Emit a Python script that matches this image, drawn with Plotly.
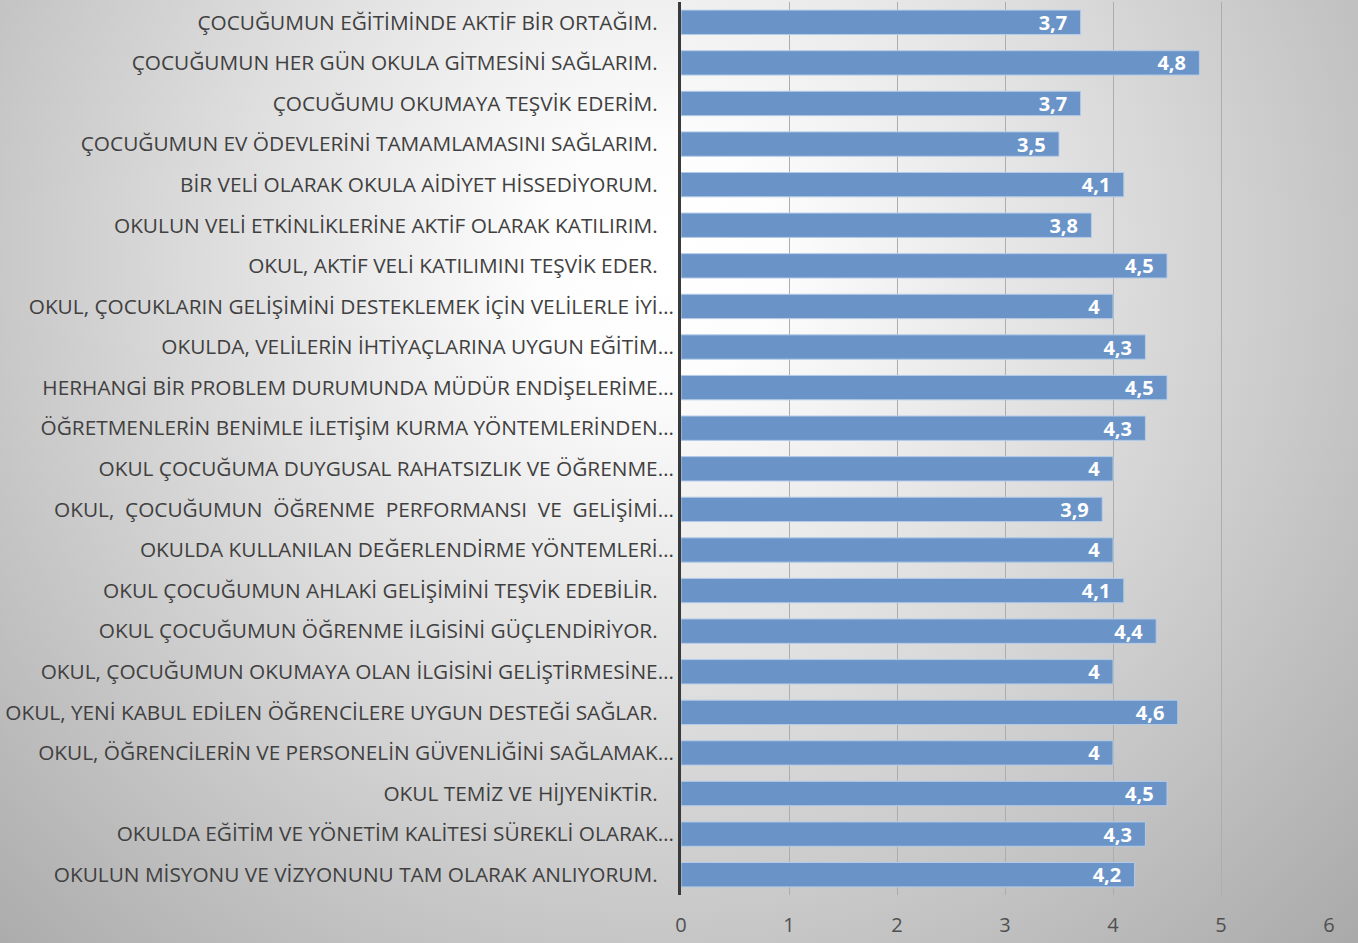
import base64

import plotly.graph_objects as go

NB = "\u00a0"

questions = [
    "ÇOCUĞUMUN EĞİTİMİNDE AKTİF BİR ORTAĞIM.",
    "ÇOCUĞUMUN HER GÜN OKULA GİTMESİNİ SAĞLARIM.",
    "ÇOCUĞUMU OKUMAYA TEŞVİK EDERİM.",
    "ÇOCUĞUMUN EV ÖDEVLERİNİ TAMAMLAMASINI SAĞLARIM.",
    "BİR VELİ OLARAK OKULA AİDİYET HİSSEDİYORUM.",
    "OKULUN VELİ ETKİNLİKLERİNE AKTİF OLARAK KATILIRIM.",
    "OKUL, AKTİF VELİ KATILIMINI TEŞVİK EDER.",
    "OKUL, ÇOCUKLARIN GELİŞİMİNİ DESTEKLEMEK İÇİN VELİLERLE İYİ…",
    "OKULDA, VELİLERİN İHTİYAÇLARINA UYGUN EĞİTİM…",
    "HERHANGİ BİR PROBLEM DURUMUNDA MÜDÜR ENDİŞELERİME…",
    "ÖĞRETMENLERİN BENİMLE İLETİŞİM KURMA YÖNTEMLERİNDEN…",
    "OKUL ÇOCUĞUMA DUYGUSAL RAHATSIZLIK VE ÖĞRENME…",
    "OKUL,  ÇOCUĞUMUN  ÖĞRENME  PERFORMANSI  VE  GELİŞİMİ…",
    "OKULDA KULLANILAN DEĞERLENDİRME YÖNTEMLERİ…",
    "OKUL ÇOCUĞUMUN AHLAKİ GELİŞİMİNİ TEŞVİK EDEBİLİR.",
    "OKUL ÇOCUĞUMUN ÖĞRENME İLGİSİNİ GÜÇLENDİRİYOR.",
    "OKUL, ÇOCUĞUMUN OKUMAYA OLAN İLGİSİNİ GELİŞTİRMESİNE…",
    "OKUL, YENİ KABUL EDİLEN ÖĞRENCİLERE UYGUN DESTEĞİ SAĞLAR.",
    "OKUL, ÖĞRENCİLERİN VE PERSONELİN GÜVENLİĞİNİ SAĞLAMAK…",
    "OKUL TEMİZ VE HİJYENİKTİR.",
    "OKULDA EĞİTİM VE YÖNETİM KALİTESİ SÜREKLİ OLARAK…",
    "OKULUN MİSYONU VE VİZYONUNU TAM OLARAK ANLIYORUM.",
]
scores = [3.7, 4.8, 3.7, 3.5, 4.1, 3.8, 4.5, 4, 4.3, 4.5, 4.3,
          4, 3.9, 4, 4.1, 4.4, 4, 4.6, 4, 4.5, 4.3, 4.2]

W, H = 1358, 943
ML, MR, MT, MB = 681, 29, 2, 48
FONT = "Open Sans, Roboto, sans-serif"


def tick_label(q):
    # keep double spaces, and the trailing gap Excel leaves after full sentences
    q = q.replace("  ", NB + " ")
    if not q.endswith("…"):
        q = q + NB * 3
    return q


labels = [tick_label(q) for q in questions]
texts = [f"{v:g}".replace(".", ",") for v in scores]

svg = (
    f"<svg xmlns='http://www.w3.org/2000/svg' width='{W}' height='{H}'>"
    "<defs><radialGradient id='g' cx='660' cy='260' r='980' gradientUnits='userSpaceOnUse'>"
    "<stop offset='0' stop-color='#ffffff'/><stop offset='0.12' stop-color='#fdfdfd'/>"
    "<stop offset='1' stop-color='#a9a9a9'/></radialGradient></defs>"
    f"<rect width='{W}' height='{H}' fill='url(#g)'/></svg>"
)
bg_src = "data:image/svg+xml;base64," + base64.b64encode(svg.encode()).decode()

pw, ph = W - ML - MR, H - MT - MB

fig = go.Figure(
    go.Bar(
        x=scores,
        y=labels,
        orientation="h",
        marker=dict(color="#6a94c8", line=dict(color="#b4cbe8", width=1)),
        text=texts,
        texttemplate="%{text}" + NB * 2,
        textposition="inside",
        insidetextanchor="end",
        constraintext="none",
        textfont=dict(family=FONT, size=20, color="white", weight="bold"),
        textangle=0,
        cliponaxis=False,
    )
)

fig.update_layout(
    width=W,
    height=H,
    margin=dict(l=ML, r=MR, t=MT, b=MB, autoexpand=False),
    paper_bgcolor="rgba(0,0,0,0)",
    plot_bgcolor="rgba(0,0,0,0)",
    bargap=0.4,
    showlegend=False,
    font=dict(family=FONT, color="#404040"),
    images=[dict(
        source=bg_src, xref="paper", yref="paper",
        x=-ML / pw, y=1 + MT / ph, sizex=W / pw, sizey=H / ph,
        xanchor="left", yanchor="top", sizing="stretch", layer="below",
    )],
    xaxis=dict(
        range=[0, 6],
        dtick=1,
        showgrid=True,
        gridcolor="#adadad",
        gridwidth=1,
        zeroline=False,
        showline=False,
        tickfont=dict(size=20, color="#505050"),
        ticks="",
        ticklabelstandoff=16,
    ),
    yaxis=dict(
        autorange="reversed",
        showline=True,
        linecolor="#3a3a3a",
        linewidth=3,
        ticks="",
        tickfont=dict(size=20.8, color="#404040"),
        ticklabelstandoff=0,
    ),
)

fig.write_html(
    "out.html",
    config={"displayModeBar": False},
    post_script="document.body.style.margin = '0';",
)
